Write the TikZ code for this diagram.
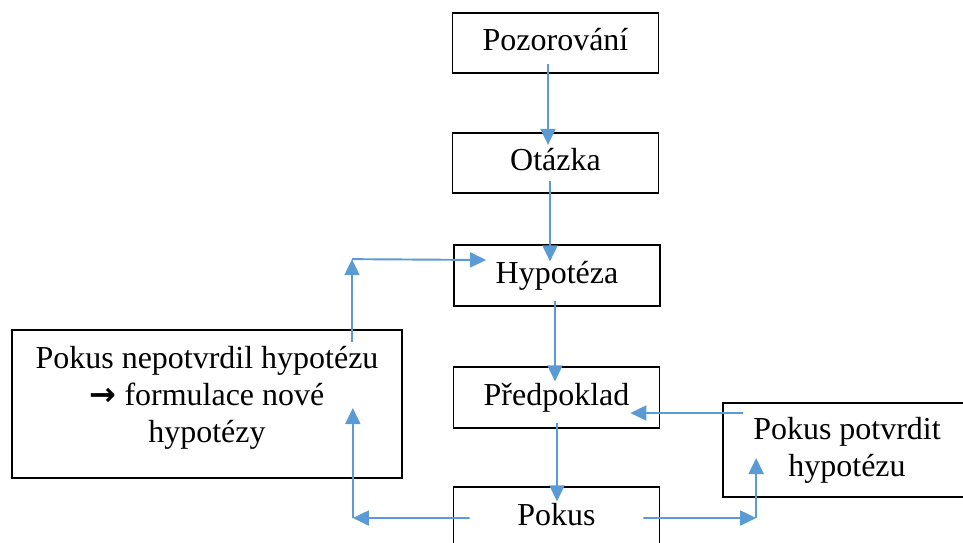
\documentclass[tikz,border=0pt]{standalone}
\usepackage{fontspec}
\setmainfont{Liberation Serif}
\newfontfamily\arrowfont{DejaVu Sans}
\usetikzlibrary{arrows.meta,calc}
\definecolor{Ink}{HTML}{000000}
\definecolor{Line}{HTML}{5B9BD5}
\tikzset{
 every node/.style={font=\fontsize{18.2}{21}\selectfont,text=Ink},
 arr/.style={-{Triangle[length=3.2mm,width=3mm]},line width=1.1pt,draw=Line},
 frame/.style={draw=Ink,line width=1pt},
 box/.style={frame,minimum width=4.12cm,minimum height=1.21cm,inner sep=0pt,text height=12.7pt,text depth=4pt},
 bigbox/.style={frame,inner sep=0pt,align=center},
 }

\begin{document}
\begin{tikzpicture}[x=.02cm,y=-.02cm]
 \useasboundingbox (0,0) rectangle (963,542);
 \clip (0,0) rectangle (963,542);
 \node[box] (pozor) at (555.5,43) {Pozorování};
 \node[box] (otazka) at (555.5,163) {Otázka};
 \node[box] (hypo) at (557,275.5) {Hypotéza};
 \node[box] (predp) at (556.5,397.5) {Předpoklad};
 \node[box] (pokus) at (556.5,517.5) {Pokus};
 \node[bigbox,minimum width=4.96cm,minimum height=1.88cm] (ano) at (847,450) {Pokus potvrdit\\hypotézu};
 \node[bigbox,minimum width=7.8cm,minimum height=2.96cm] (ne) at (207,404) {Pokus nepotvrdil hypotézu\\{\arrowfont\bfseries →} formulace nové\\hypotézy\rule[-11.4pt]{0pt}{0pt}};
 \draw[arr] ($(pozor.south)+(-7.5,-10)$) -- ($(otazka.north)+(-7.5,13)$);
 \draw[arr] ($(otazka.south)+(-5.5,-13)$) -- ($(hypo.north)+(-7,17)$);
 \draw[arr] ($(hypo.south)+(-2,-6)$) -- ($(predp.north)+(-1.5,15)$);
 \draw[arr] ($(predp.south)+(.5,-6)$) -- ($(pokus.north)+(.5,15)$);
 \draw[arr] ($(ano.west)+(21,-37)$) -- ($(predp.east)+(-30,15.5)$);
 \coordinate (pravo) at ($(ano.west)+(34,68)$);
 \draw[arr] ($(pokus.east)+(-17,.5)$) -- (pravo);
 \draw[arr] (pravo) -- ($(ano.west)+(34,8)$);
 \coordinate (levo) at ($(ne.east)+(-50,114)$);
 \draw[arr] ($(pokus.west)+(17,.5)$) -- (levo);
 \draw[arr] (levo) -- ($(ne.east)+(-50,4)$);
 \coordinate (nahore) at ($(ne.north)+(145,-70)$);
 \draw[arr] ($(ne.north)+(145,13)$) -- (nahore);
 \draw[arr] (nahore) -- ($(hypo.west)+(33,-15.5)$);
\end{tikzpicture}
\end{document}
